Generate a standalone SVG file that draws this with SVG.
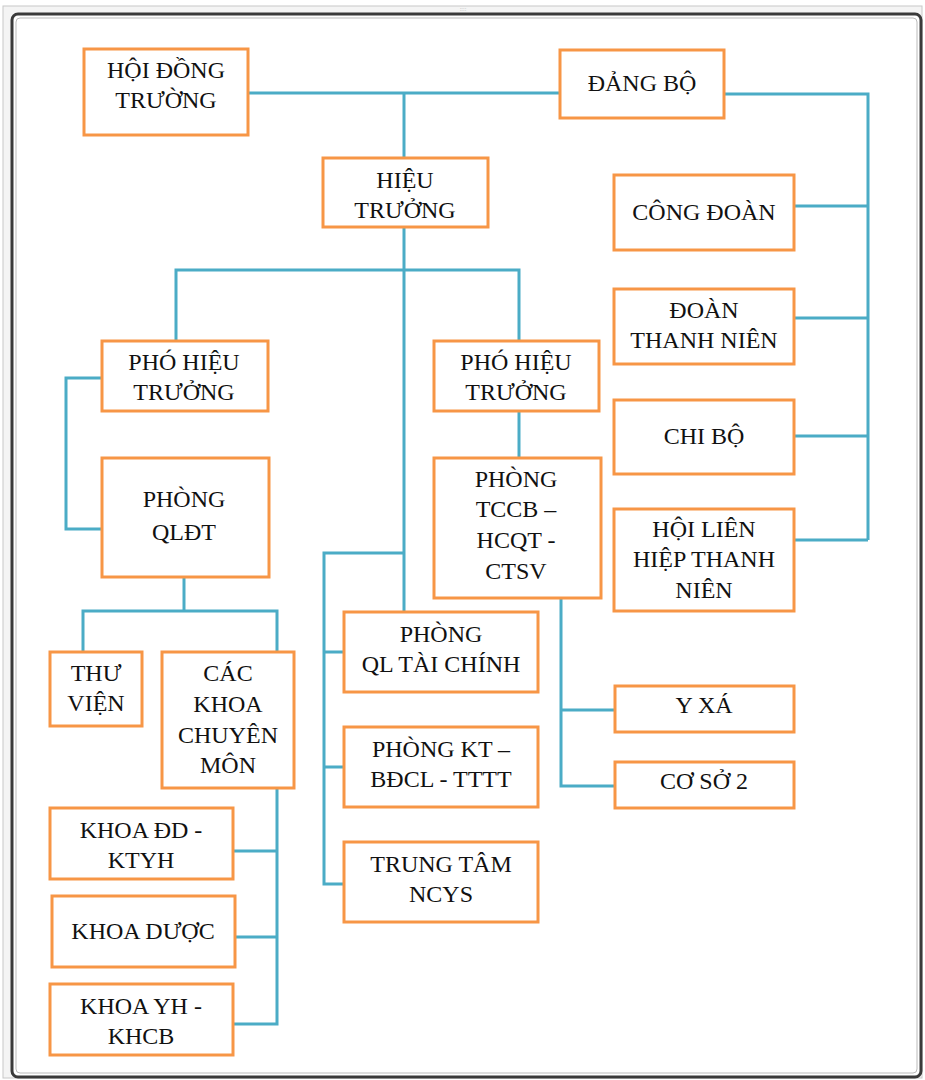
<svg xmlns="http://www.w3.org/2000/svg" width="925" height="1080" viewBox="0 0 925 1080">
<style>
.box{fill:#fff;stroke:#F79646;stroke-width:3}
.t{font-family:"Liberation Serif","Times New Roman",serif;font-size:24px;fill:#111;text-anchor:middle}
.c{fill:none;stroke:#4BACC6;stroke-width:3;stroke-linejoin:miter}
</style>
<rect x="0" y="0" width="925" height="1080" fill="#fff"/>
<rect x="3" y="6" width="919" height="1072" fill="#f4f4f4" stroke="#c8c8c8" stroke-width="1"/>
<text x="463" y="11" font-family="Liberation Sans, sans-serif" font-size="6" fill="#999" text-anchor="middle">::::</text>
<rect x="12" y="14" width="909" height="1063" rx="6" fill="#fff" stroke="#3a3a3a" stroke-width="3"/>
<rect x="16" y="18" width="901" height="1055" rx="4" fill="none" stroke="#bbb" stroke-width="1"/>

<g id="connectors">
<path class="c" d="M248,93 H560"/>
<path class="c" d="M404,93 V158"/>
<path class="c" d="M724,94 H868 V540"/>
<path class="c" d="M794,206 H868 M794,318 H868 M794,436 H868 M794,540 H868"/>
<path class="c" d="M404,227 V612"/>
<path class="c" d="M176,341 V270 H519 V341"/>
<path class="c" d="M102,378 H66 V529 H102"/>
<path class="c" d="M519,411 V458"/>
<path class="c" d="M184,577 V611"/>
<path class="c" d="M83,652 V611 H277 V652"/>
<path class="c" d="M277,788 V1024 H233 M233,851 H277 M235,937 H277"/>
<path class="c" d="M404,553 H324 V884 H344 M324,652 H344 M324,767 H344"/>
<path class="c" d="M561,598 V786 H615 M561,710 H615"/>
</g>

<g id="hoi-dong-truong"><rect class="box" x="84" y="49" width="164" height="86"/><text class="t" x="166" y="78">HỘI ĐỒNG</text><text class="t" x="166" y="108">TRƯỜNG</text></g>
<g id="dang-bo"><rect class="box" x="560" y="50" width="164" height="68"/><text class="t" x="642" y="91">ĐẢNG BỘ</text></g>
<g id="hieu-truong"><rect class="box" x="323" y="158" width="165" height="69"/><text class="t" x="405" y="188">HIỆU</text><text class="t" x="405" y="218">TRƯỞNG</text></g>
<g id="cong-doan"><rect class="box" x="614" y="175" width="180" height="75"/><text class="t" x="704" y="220">CÔNG ĐOÀN</text></g>
<g id="doan-thanh-nien"><rect class="box" x="614" y="289" width="180" height="75"/><text class="t" x="704" y="318">ĐOÀN</text><text class="t" x="704" y="348">THANH NIÊN</text></g>
<g id="chi-bo"><rect class="box" x="614" y="400" width="180" height="74"/><text class="t" x="704" y="444">CHI BỘ</text></g>
<g id="hoi-lien-hiep"><rect class="box" x="614" y="509" width="180" height="102"/><text class="t" x="704" y="537">HỘI LIÊN</text><text class="t" x="704" y="567">HIỆP THANH</text><text class="t" x="704" y="598">NIÊN</text></g>
<g id="pho-hieu-truong-1"><rect class="box" x="102" y="341" width="166" height="70"/><text class="t" x="184" y="370">PHÓ HIỆU</text><text class="t" x="184" y="400">TRƯỞNG</text></g>
<g id="pho-hieu-truong-2"><rect class="box" x="434" y="341" width="165" height="70"/><text class="t" x="516" y="370">PHÓ HIỆU</text><text class="t" x="516" y="400">TRƯỞNG</text></g>
<g id="phong-qldt"><rect class="box" x="102" y="458" width="167" height="119"/><text class="t" x="184" y="507">PHÒNG</text><text class="t" x="184" y="540">QLĐT</text></g>
<g id="phong-tccb"><rect class="box" x="434" y="458" width="167" height="140"/><text class="t" x="516" y="487">PHÒNG</text><text class="t" x="516" y="517">TCCB –</text><text class="t" x="516" y="548">HCQT -</text><text class="t" x="516" y="579">CTSV</text></g>
<g id="phong-ql-tai-chinh"><rect class="box" x="344" y="612" width="194" height="80"/><text class="t" x="441" y="642">PHÒNG</text><text class="t" x="441" y="672">QL TÀI CHÍNH</text></g>
<g id="phong-kt"><rect class="box" x="344" y="727" width="194" height="80"/><text class="t" x="441" y="757">PHÒNG KT –</text><text class="t" x="441" y="787">BĐCL - TTTT</text></g>
<g id="trung-tam-ncys"><rect class="box" x="344" y="842" width="194" height="80"/><text class="t" x="441" y="872">TRUNG TÂM</text><text class="t" x="441" y="902">NCYS</text></g>
<g id="y-xa"><rect class="box" x="615" y="686" width="179" height="46"/><text class="t" x="704" y="713">Y XÁ</text></g>
<g id="co-so-2"><rect class="box" x="615" y="762" width="179" height="46"/><text class="t" x="704" y="789">CƠ SỞ 2</text></g>
<g id="thu-vien"><rect class="box" x="50" y="652" width="92" height="74"/><text class="t" x="96" y="681">THƯ</text><text class="t" x="96" y="711">VIỆN</text></g>
<g id="cac-khoa"><rect class="box" x="162" y="652" width="132" height="136"/><text class="t" x="228" y="681">CÁC</text><text class="t" x="228" y="712">KHOA</text><text class="t" x="228" y="743">CHUYÊN</text><text class="t" x="228" y="773">MÔN</text></g>
<g id="khoa-dd"><rect class="box" x="50" y="808" width="183" height="71"/><text class="t" x="141" y="838">KHOA ĐD -</text><text class="t" x="141" y="868">KTYH</text></g>
<g id="khoa-duoc"><rect class="box" x="52" y="896" width="183" height="71"/><text class="t" x="143" y="939">KHOA DƯỢC</text></g>
<g id="khoa-yh"><rect class="box" x="50" y="984" width="183" height="71"/><text class="t" x="141" y="1014">KHOA YH -</text><text class="t" x="141" y="1044">KHCB</text></g>
</svg>
